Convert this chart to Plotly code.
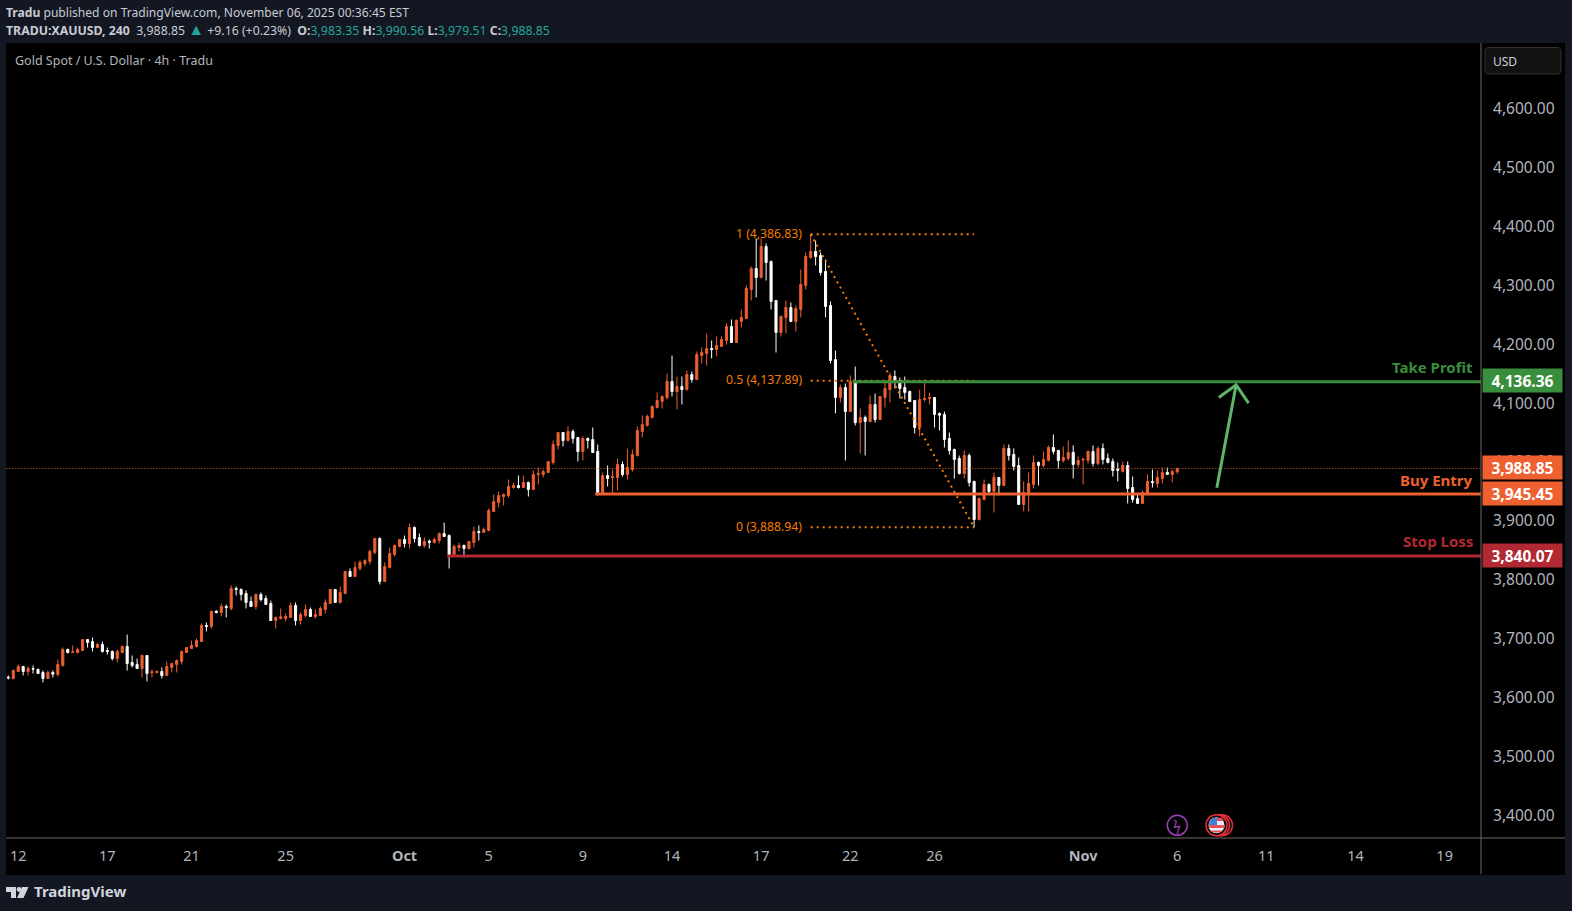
import plotly.graph_objects as go

opens = [3634.3,3632.1,3644,3652.4,3644,3649,3647.4,3642.3,3632,3642.3,
3638.9,3654.2,3681.3,3676.2,3676.2,3679.6,3698.3,3694.9,3684.7,3689.8,
3679.6,3677.9,3666,3676.2,3686.4,3659.2,3655.9,3649,3671.1,3641.7,
3642.3,3644,3637.2,3650.8,3655.9,3661,3676.2,3683,3686.4,3694.9,
3722.1,3720.4,3746.5,3744.2,3754.4,3751,3785,3783.3,3776.5,3762.9,
3754.4,3774.8,3768,3759.5,3730.6,3734,3734,3735.7,3756.1,3730.6,
3739.1,3749.3,3737.4,3739.1,3749.3,3759.5,3783.3,3761.2,3776.5,3813.9,
3805.4,3819,3827.5,3830.9,3846.2,3870,3796.9,3820.7,3842.8,3856.4,
3868.2,3861.4,3888.6,3871.6,3858,3865.3,3863.1,3866.5,3878.4,3875,
3842.7,3854.6,3858,3852.9,3863.1,3881.8,3880.1,3883.5,3915.7,3931,
3941.2,3942.9,3956.5,3959.9,3956.5,3965,3953.1,3978.6,3978.6,3982,
3999,4027.9,4050,4036.4,4051.7,4041.5,4017.7,4039.8,4038.1,4017.7,
3948,3976.9,3973.5,3973.5,3995.6,3978.6,3987.1,4010.9,4051.7,4061.9,
4075.5,4092.5,4102.7,4109.5,4136.6,4119.6,4128.1,4123,4148.5,4140,
4180.8,4184.2,4192.7,4191,4196.1,4206.3,4230.1,4202.9,4238.6,4243.7,
4293,4328.6,4313.3,4366,4340.5,4274.3,4219.9,4245.4,4262.4,4238.6,
4259,4299.8,4347.3,4357.5,4350.7,4323.5,4265.8,4174,4109.4,4126.4,
4085.7,4134.9,4067,4075.5,4068.7,4097.5,4072.1,4109.4,4123,4145.1,
4138.3,4126.4,4119.6,4104.3,4058.5,4106,4107.7,4109.4,4082.3,4080.6,
4039.8,4021.1,4005.8,3980.3,4010.9,3966.7,3902.2,3936.2,3961.7,3949.8,
3973.6,3960,4022.9,4012.7,3994,3927.7,3944.7,3961.7,3999.1,3994,
4002.5,4024.6,4019.5,4002.5,4005.9,4016.1,3995.7,4003.1,4002.5,4017.8,
3997.4,4022.9,4005.9,4000.8,3987.8,3983.8,3994,3956.6,3937.9,3929.4,
3944.7,3966.8,3963.4,3971.9,3982.1,3978.7,3983.35]

highs = [3637.2,3647.4,3655.9,3653.6,3652.4,3654,3649,3645.6,3645.6,3645.6,
3664.3,3684.7,3683,3688.1,3684.7,3698.3,3698.3,3701.7,3692.7,3694.9,
3684.7,3679.6,3681.3,3688.1,3706.8,3671.1,3666,3672.8,3671.1,3647.4,
3645.6,3650.8,3661,3657.5,3664.3,3679.6,3684.7,3696.6,3700,3725.5,
3727.2,3747.6,3747.6,3759.5,3757.8,3790.1,3788.4,3785,3781.6,3771.4,
3776.5,3778.2,3773.1,3764.6,3737.4,3751,3742.5,3761.2,3761.2,3744.2,
3757.8,3752.7,3749.3,3754.4,3766.3,3783.3,3783.3,3788.4,3813.9,3819,
3830.9,3832.6,3834.3,3851.3,3870,3871.6,3829.2,3854.7,3859.8,3868.3,
3875,3895.4,3890.3,3878.4,3871.6,3868.2,3871.6,3880.1,3897,3876.7,
3859.7,3863.1,3859.7,3864.8,3890.3,3892,3888.6,3920.8,3944.6,3949.7,
3946.3,3970.1,3965,3976.9,3976.9,3966.7,3985.4,3990.5,3987.1,4000.7,
4036.4,4050,4050,4060.2,4055.1,4041.5,4043.2,4041.5,4058.5,4029.6,
3982,3993.9,3987.1,4005.8,4000.7,4022.8,4021.1,4060.2,4078.9,4080.6,
4095.9,4118,4112.9,4150.2,4180.8,4145.1,4145.1,4155.3,4153.6,4187.6,
4194.4,4218.2,4206.3,4213.1,4213.1,4235.2,4242,4242,4259,4299.8,
4332,4379.6,4379.6,4371.1,4342.2,4274.3,4248.8,4274.3,4270.9,4265.8,
4327,4355.8,4386.8,4376.2,4355.8,4343.9,4272.6,4189.3,4131.5,4133.2,
4146.8,4162.1,4090.8,4078.9,4112.8,4116.2,4111.1,4138.3,4151.9,4155.3,
4143.4,4145.1,4121.3,4104.3,4123,4140,4118,4109.4,4084,4085.7,
4050,4022.8,4010.9,4019.4,4014.3,3968.4,3939.6,3970.2,3963.4,3982.1,
3973.6,4029.7,4029.7,4022.9,4007.6,3966.8,3982.1,4011,4000.8,4017.8,
4028,4046.7,4019.5,4026.3,4036.5,4028,4009.3,4005.9,4019.5,4028,
4026.3,4031.4,4014.4,4005.9,3999.1,4000.8,4000.8,3975.3,3944.7,3951.5,
3978.7,3987.2,3985.5,3990.6,3990.6,3987.2,3990.56]

lows = [3630.4,3630.4,3644,3637.2,3637.2,3640.5,3640.5,3625.3,3632,3633.8,
3635.5,3652.4,3674.5,3676.2,3674.5,3679.6,3684.7,3677.9,3684.7,3676.2,
3672.8,3662.6,3659.2,3676.2,3645.6,3650.8,3649,3633.8,3627,3633.8,
3640.5,3632,3637.2,3642.3,3642.3,3655.9,3676.2,3683,3684.7,3694.9,
3711.9,3717,3742.5,3737.4,3735.7,3747.6,3773.1,3764.6,3751,3754.4,
3749.3,3762.9,3757.8,3730.6,3717,3732.3,3728.9,3735.7,3722.1,3723.8,
3735.7,3737.4,3734,3739.1,3742.5,3759.5,3761.2,3759.5,3776.5,3805.4,
3805.4,3815.6,3822.4,3825.8,3842.8,3791.8,3796.9,3819,3839.4,3854.7,
3854.6,3852.9,3863.1,3856.3,3854.6,3852.9,3861.4,3861.4,3873.3,3818.9,
3842.7,3847.8,3837.6,3851.2,3854.6,3866.5,3880.1,3883.5,3915.7,3922.5,
3925.9,3939.5,3954.8,3954.8,3956.5,3941.2,3953.1,3961.6,3973.5,3982,
3995.6,4021.1,4026.2,4034.7,4031.3,4000.7,4002.4,4022.8,4016,3942.9,
3948,3958.2,3946.3,3951.4,3975.2,3970.1,3983.7,4009.2,4041.5,4060.2,
4073.8,4090.8,4090.8,4106.1,4111.2,4089.1,4097.6,4121.3,4134.9,4140,
4167.2,4163.8,4175.7,4179.1,4196.1,4199.5,4202.9,4202.9,4228.4,4243.7,
4274.3,4279.4,4311.6,4308.2,4259,4185.9,4213.1,4218.2,4238.6,4221.6,
4245.4,4293,4345.6,4333.7,4316.7,4245.4,4167.2,4082.3,4101,4002.4,
4085.7,4061.9,4014.3,4010.9,4067,4067,4072.1,4092.4,4101,4124.7,
4107.7,4106,4102.6,4048.3,4043.2,4102.6,4097.5,4058.5,4053.4,4024.5,
4012.6,3971.8,3978.6,3971.8,3958.2,3888.9,3900.5,3934.5,3944.7,3914.1,
3943,3960,4002.5,3985.5,3927.7,3915.8,3915.8,3954.9,3960,3990.6,
4000.8,4012.7,3988.9,3999.1,4002.5,3971.9,3990.6,3961.7,3997.4,3992.3,
3994,3995.7,3997.4,3975.3,3966.8,3982.1,3929.4,3931.1,3929.4,3929.4,
3944.7,3956.6,3956.6,3963.4,3978.7,3965.1,3979.51]

closes = [3633.2,3645.6,3652.4,3644,3649,3648,3640.5,3632,3642.3,3639.4,
3655.9,3681.3,3676.2,3677.4,3681.3,3698.3,3693.2,3684.7,3689.8,3677.9,
3677.9,3666,3677.9,3686.4,3657.5,3654.2,3649,3671.1,3640.5,3643.4,
3644,3637.2,3652.4,3657.5,3662.6,3677.9,3684.7,3688.1,3696.6,3722.1,
3720.4,3745.9,3744.2,3754.4,3752.7,3785,3783.3,3774.8,3761.2,3754.4,
3774.8,3766.3,3757.8,3730.6,3735.7,3736.8,3737.4,3756.1,3730.6,3740.8,
3749.3,3737.4,3740.8,3751,3761.2,3783.3,3761.2,3778.2,3813.9,3805.4,
3820.7,3829.2,3832.6,3847.9,3870,3796.9,3822.4,3844.5,3858,3868.3,
3861.4,3888.6,3869.9,3858,3864.8,3863.6,3868.2,3878.4,3873.3,3842.7,
3856.3,3858,3852.9,3864.8,3881.8,3880.1,3885.2,3917.4,3932.7,3942.9,
3944.6,3958.2,3959.9,3956.5,3965,3953.1,3978.6,3980.3,3983.7,4000.7,
4029.6,4050,4036.4,4051.7,4039.8,4017.7,4039.8,4036.4,4016,3948,
3976.9,3971.8,3975.2,3995.6,3978.6,3990.5,4012.6,4053.4,4063.6,4077.2,
4094.2,4104.4,4111.2,4136.6,4119.6,4128.1,4123,4148.5,4140,4182.5,
4185.9,4192.7,4191,4197.8,4208,4230.1,4202.9,4240.3,4245.4,4294.6,
4328.6,4313.3,4366,4338.8,4272.6,4219.9,4247.1,4262.4,4238.6,4260.7,
4301.4,4349,4357.5,4349,4321.8,4264.1,4172.3,4109.4,4126.4,4085.7,
4136.6,4067,4075.5,4068.7,4097.5,4072.1,4111.1,4124.7,4146.8,4136.6,
4124.7,4118,4102.6,4058.5,4106,4107.7,4109.4,4080.6,4079.4,4038.1,
4019.4,4004.1,3980.3,4010.9,3965,3902.1,3937.9,3961.7,3949.8,3973.6,
3960,4022.9,4011,3992.3,3927.7,3948.1,3963.4,3999.1,3994,4004.2,
4024.6,4017.8,4002.5,4007.6,4016.1,3995.7,4002.5,4004.8,4017.8,3997.4,
4022.9,4004.2,3999.1,3985.5,3986,3994,3954.9,3936.2,3929.4,3948.1,
3966.8,3965.1,3973.6,3982.1,3978.7,3983.8,3988.85]

bars = list(range(len(opens)))

date_bars = [2,20,37,56,80,97,116,134,152,170,187,217,236,254,272,290]
date_labels = ["12","17","21","25","<b>Oct</b>","5","9","14","17","22","26","<b>Nov</b>","6","11","14","19"]
price_ticks = [3400,3500,3600,3700,3800,3900,4000,4100,4200,4300,4400,4500,4600]
price_labels = ["3,400.00","3,500.00","3,600.00","3,700.00","3,800.00","3,900.00","4,000.00",
                "4,100.00","4,200.00","4,300.00","4,400.00","4,500.00","4,600.00"]

last_price = 3988.85
take_profit = 4136.36
buy_entry = 3945.45
stop_loss = 3840.07
tp_start = 170.5
entry_start = 118.5
stop_start = 88.6

fib_bars = [162, 195]
fib_prices = [4386.83, 4137.89, 3888.94]
fib_labels = ["1 (4,386.83)", "0.5 (4,137.89)", "0 (3,888.94)"]

arrow_shaft_x = [244, 247.9]
arrow_shaft_y = [3956, 4131]
arrow_head_x = [244.4, 247.9, 250.4]
arrow_head_y = [4109.5, 4131, 4099.8]

PANEL = "#131722"
ORANGE = "#EE6030"
GREEN = "#388E3C"
RED = "#B22833"
FIB = "#F57C00"
TEAL = "#26A69A"
FONT = "Noto Sans"
W, H = 1572, 911
L, R, T, B = 6, 1481, 43, 838


def px(x):
    return (x - L) / (R - L)


def py(y):
    return (B - y) / (B - T)


def rounded(x0, y0, x1, y1, r):
    # rounded rectangle path, pixel input
    pts = [(x0 + r, y0), (x1 - r, y0), (x1, y0), (x1, y0 + r), (x1, y1 - r), (x1, y1),
           (x1 - r, y1), (x0 + r, y1), (x0, y1), (x0, y1 - r), (x0, y0 + r), (x0, y0)]
    p = [(px(a), py(b)) for a, b in pts]
    s = "M%f,%f L%f,%f Q%f,%f %f,%f L%f,%f Q%f,%f %f,%f L%f,%f Q%f,%f %f,%f L%f,%f Q%f,%f %f,%f Z" % (
        p[0] + p[1] + p[2] + p[3] + p[4] + p[5] + p[6] + p[7] + p[8] + p[9] + p[10] + p[11] + p[0])
    return s


def poly(points):
    return "M" + " L".join("%f,%f" % (px(a), py(b)) for a, b in points) + " Z"


def circle(cx, cy, r, **kw):
    return dict(type="circle", xref="paper", yref="paper", x0=px(cx - r), x1=px(cx + r),
                y0=py(cy + r), y1=py(cy - r), **kw)


fig = go.Figure()

fig.add_trace(go.Candlestick(
    x=bars, open=opens, high=highs, low=lows, close=closes,
    increasing=dict(line=dict(color=ORANGE, width=1), fillcolor=ORANGE),
    decreasing=dict(line=dict(color="#FFFFFF", width=1), fillcolor="#FFFFFF"),
    whiskerwidth=0, hoverinfo="skip", showlegend=False,
))


def level(xs, ys, color, width, dash="solid"):
    fig.add_trace(go.Scatter(x=xs, y=ys, mode="lines", hoverinfo="skip", showlegend=False,
                             line=dict(color=color, width=width, dash=dash)))


x_end = (R - L) / 4.953 + 1
level([-1, x_end], [last_price, last_price], ORANGE, 1, "1px,2px")
for p in fib_prices:
    level(fib_bars, [p, p], FIB, 2, "2px,4px")
level(fib_bars, [fib_prices[0], fib_prices[2]], FIB, 2, "2px,4px")
level([tp_start, x_end], [take_profit, take_profit], GREEN, 3)
level([entry_start, x_end], [buy_entry, buy_entry], ORANGE, 3)
level([stop_start, x_end], [stop_loss, stop_loss], RED, 3)
level(arrow_shaft_x, arrow_shaft_y, "#5FB56B", 3)
level(arrow_head_x, arrow_head_y, "#5FB56B", 3)

shapes = [
    # black chart panel incl. scales
    dict(type="rect", xref="paper", yref="paper", x0=px(6), x1=px(1565), y0=py(875), y1=py(43),
         fillcolor="#000000", line_width=0, layer="below"),
    dict(type="line", xref="paper", yref="paper", x0=px(1481), x1=px(1481), y0=py(874), y1=py(43),
         line=dict(color="#6a6a6a", width=1)),
    dict(type="line", xref="paper", yref="paper", x0=px(6), x1=px(1565), y0=py(838), y1=py(838),
         line=dict(color="#6a6a6a", width=1)),
    dict(type="path", xref="paper", yref="paper", path=rounded(1485, 47.5, 1561, 74, 4),
         fillcolor="#121212", line=dict(color="#333333", width=1)),
    # TradingView logo
    dict(type="path", xref="paper", yref="paper", fillcolor="#D1D4DC", line_width=0,
         path=poly([(6, 887), (16, 887), (16, 898), (11, 898), (11, 892), (6, 892)])),
    dict(type="path", xref="paper", yref="paper", fillcolor="#D1D4DC", line_width=0,
         path=poly([(22, 887), (28.5, 887), (23.5, 898), (17, 898)])),
    circle(19, 889.5, 2.4, fillcolor="#D1D4DC", line_width=0),
    # event markers
    circle(1177.3, 825.3, 10, fillcolor="rgba(0,0,0,0)", line=dict(color="#9C3FB5", width=1.5)),
    circle(1222, 825.3, 10.5, fillcolor="#000000", line=dict(color="#E0303C", width=1.5)),
    circle(1219, 825.3, 10.5, fillcolor="#000000", line=dict(color="#E0303C", width=1.5)),
    circle(1216.5, 825.3, 10.5, fillcolor="#000000", line=dict(color="#E0303C", width=1.5)),
    circle(1216.5, 825.3, 8.5, fillcolor="#EDEFF5", line=dict(color="#000000", width=1)),
    dict(type="path", xref="paper", yref="paper", fillcolor="#E8505A", line_width=0,
         path=poly([(1214, 818), (1222, 818), (1224, 821), (1214, 821)])),
    dict(type="path", xref="paper", yref="paper", fillcolor="#E8505A", line_width=0,
         path=poly([(1209, 825), (1225, 825), (1224.5, 828), (1209.5, 828)])),
    dict(type="path", xref="paper", yref="paper", fillcolor="#E8505A", line_width=0,
         path=poly([(1211, 830.5), (1222, 830.5), (1220, 832.5), (1213, 832.5)])),
    dict(type="path", xref="paper", yref="paper", fillcolor="#3F7FD6", line_width=0,
         path=poly([(1209.5, 822), (1212, 818.5), (1217, 817.5), (1217, 825), (1209, 825)])),
]

ann = []


def text(x, y, s, size, color, anchor="left", **kw):
    ann.append(dict(xref="paper", yref="paper", x=px(x), y=py(y), text=s, showarrow=False,
                    xanchor=anchor, yanchor="middle", font=dict(family=FONT, size=size, color=color), **kw))


text(4, 12.5, '<b>Tradu</b> published on TradingView.com, November 06, 2025 00:36:45 EST', 12.1, "#C8CBD3")
num = lambda s: '<span style="color:%s">%s</span>' % (TEAL, s)
text(4, 29.5, '<b>TRADU:XAUUSD, 240</b>  3,988.85 '
     + '<span style="color:%s;font-size:16px">▲</span>' % TEAL
     + ' +9.16 (+0.23%)  <b>O:</b>' + num("3,983.35")
     + ' <b>H:</b>' + num("3,990.56") + ' <b>L:</b>' + num("3,979.51") + ' <b>C:</b>' + num("3,988.85"),
     12.3, "#C8CBD3")
text(13, 60.5, "Gold Spot / U.S. Dollar · 4h · Tradu", 12.5, "#B2B5BE")
text(1491, 61, "USD", 12, "#D1D4DC")
text(32, 890.5, "<b>TradingView</b>", 15, "#D1D4DC")
text(1177.3, 825.3, "ϟ", 14, "#9C3FB5", anchor="center")

for label, y_px, color in [("Take Profit", 366.5, GREEN), ("Buy Entry", 479.7, ORANGE), ("Stop Loss", 541, RED)]:
    text(1475, y_px, "<b>%s</b>" % label, 15, color, anchor="right")

for price, label, color in [(take_profit, "4,136.36", GREEN), (last_price, "3,988.85", ORANGE),
                            (buy_entry, "3,945.45", ORANGE), (stop_loss, "3,840.07", RED)]:
    ann.append(dict(xref="paper", yref="y", x=px(1482), y=price, text="<b>%s</b>" % label, showarrow=False,
                    xanchor="left", yanchor="middle", width=79, height=23, align="center", valign="middle",
                    yshift=1, bgcolor=color, borderpad=0, font=dict(family=FONT, size=15.5, color="#FFFFFF")))

for price, label, x_anchor in zip(fib_prices, fib_labels, [160.6] * 3):
    ann.append(dict(xref="x", yref="y", x=x_anchor, y=price, text=label, showarrow=False, xanchor="right",
                    yanchor="middle", yshift=1, font=dict(family=FONT, size=12.2, color=FIB)))

fig.update_layout(
    width=W, height=H, autosize=False,
    margin=dict(l=L, r=W - R, t=T, b=H - B, pad=0),
    paper_bgcolor=PANEL, plot_bgcolor="#000000",
    shapes=shapes, annotations=ann, boxgap=0.4,
    showlegend=False, dragmode=False,
    xaxis=dict(range=[(L - 8.3) / 4.953, (R - 8.3) / 4.953], tickmode="array", tickvals=date_bars,
               ticktext=date_labels, showgrid=False, zeroline=False, rangeslider=dict(visible=False),
               ticks="outside", ticklen=5, tickcolor="rgba(0,0,0,0)", showline=False,
               tickfont=dict(family=FONT, size=14.5, color="#B2B5BE")),
    yaxis=dict(range=[3361.05, 4711.75], side="right", tickmode="array", tickvals=price_ticks,
               ticktext=price_labels, showgrid=False, zeroline=False, showline=False,
               ticks="outside", ticklen=8, tickcolor="rgba(0,0,0,0)",
               tickfont=dict(family=FONT, size=15.5, color="#B2B5BE")),
)

fig.write_html("out.html", config=dict(displayModeBar=False),
               post_script="document.body.style.margin='0';document.body.style.background='%s';" % PANEL)
